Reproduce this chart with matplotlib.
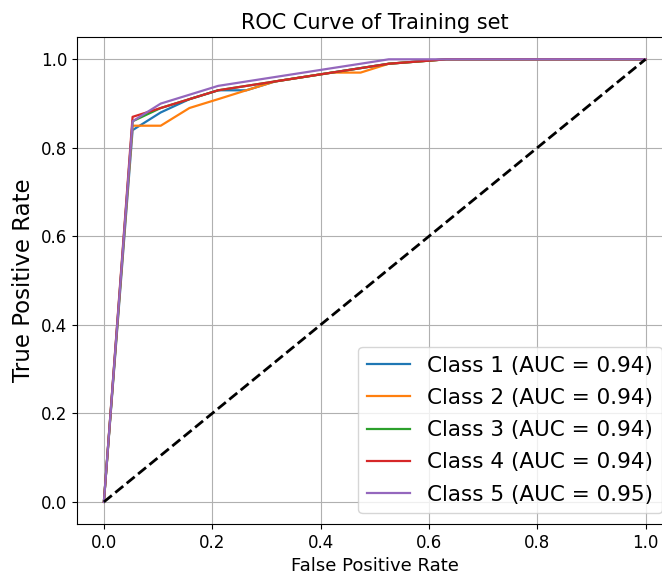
import matplotlib
matplotlib.use("Agg")
import matplotlib.pyplot as plt

# ROC points (fpr steps of 1/19)
fpr_1 = [0.0, 0.053, 0.105, 0.158, 0.211, 0.263, 0.316, 0.421, 0.526, 0.632, 1.0]
tpr_1 = [0.0, 0.84, 0.88, 0.91, 0.93, 0.93, 0.95, 0.97, 0.99, 1.0, 1.0]

fpr_2 = [0.0, 0.053, 0.105, 0.158, 0.211, 0.263, 0.316, 0.421, 0.474, 0.526, 0.632, 1.0]
tpr_2 = [0.0, 0.85, 0.85, 0.89, 0.91, 0.93, 0.95, 0.97, 0.97, 0.99, 1.0, 1.0]

fpr_3 = [0.0, 0.053, 0.105, 0.211, 0.316, 0.421, 0.526, 0.632, 1.0]
tpr_3 = [0.0, 0.86, 0.89, 0.93, 0.95, 0.97, 0.99, 1.0, 1.0]

fpr_4 = [0.0, 0.053, 0.105, 0.211, 0.316, 0.421, 0.526, 0.632, 1.0]
tpr_4 = [0.0, 0.87, 0.89, 0.93, 0.95, 0.97, 0.99, 1.0, 1.0]

fpr_5 = [0.0, 0.053, 0.105, 0.211, 0.316, 0.421, 0.474, 0.526, 0.632, 1.0]
tpr_5 = [0.0, 0.86, 0.90, 0.94, 0.96, 0.98, 0.99, 1.0, 1.0, 1.0]

aucs = [0.94, 0.94, 0.94, 0.94, 0.95]

fprs = [fpr_1, fpr_2, fpr_3, fpr_4, fpr_5]
tprs = [tpr_1, tpr_2, tpr_3, tpr_4, tpr_5]

fig = plt.figure(figsize=(6.62, 5.81), dpi=100)
# axes run past the right edge, like the cropped original
ax = fig.add_axes([0.116, 0.098, 0.9, 0.838])

for i in range(5):
    ax.plot(fprs[i], tprs[i], lw=1.6,
            label="Class %d (AUC = %.2f)" % (i + 1, aucs[i]))

ax.plot([0, 1], [0, 1], "k--", lw=2)

ax.set_title("ROC Curve of Training set", fontsize=15)
ax.set_xlabel("False Positive Rate", fontsize=13)
ax.set_ylabel("True Positive Rate", fontsize=16.5)
ax.tick_params(labelsize=12)
ax.grid(True)
ax.legend(loc="lower right", fontsize=15.5, labelspacing=0.57)

fig.savefig("out.png", dpi=100)
